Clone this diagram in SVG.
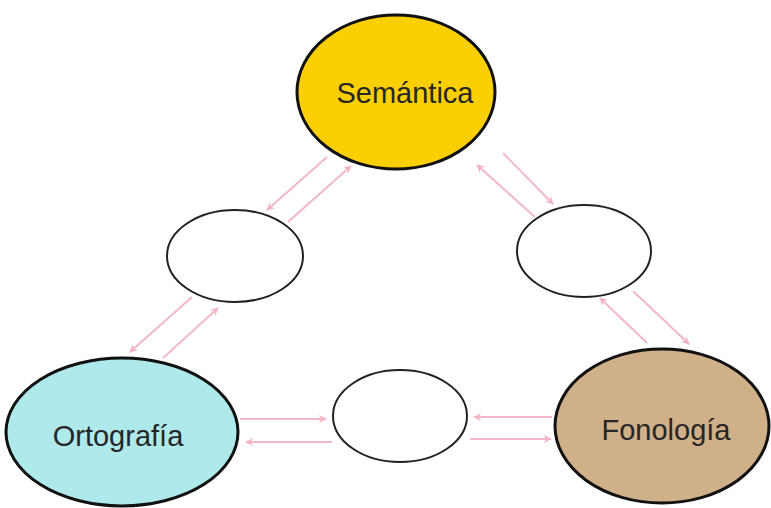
<svg xmlns="http://www.w3.org/2000/svg" width="771" height="508" viewBox="0 0 771 508">
  <defs>
    <marker id="head" viewBox="0 0 10 10" refX="9" refY="5" markerWidth="4" markerHeight="4" orient="auto" markerUnits="strokeWidth">
      <path d="M0,0 L10,5 L0,10 L3,5 Z" fill="#f3b3c4"/>
    </marker>
    <style>
      .node { stroke: #111; stroke-width: 3; }
      .small { fill: #fff; stroke: #222; stroke-width: 2; }
      .label { font-family: "Liberation Sans", Arial, sans-serif; font-size: 29px; fill: #262626; text-anchor: middle; }
      .link { stroke: #f3b8c6; stroke-width: 2; fill: none; marker-end: url(#head); }
    </style>
  </defs>
  <rect width="771" height="508" fill="#fff"/>

  <g id="connectors">
    <!-- Semántica <-> upper-left blank -->
    <line class="link" x1="327" y1="157" x2="267" y2="210"/>
    <line class="link" x1="288" y1="222" x2="351" y2="166"/>
    <!-- upper-left blank <-> Ortografía -->
    <line class="link" x1="192" y1="297" x2="130" y2="352"/>
    <line class="link" x1="163" y1="358" x2="218" y2="308"/>
    <!-- Semántica <-> upper-right blank -->
    <line class="link" x1="535" y1="217" x2="477" y2="165"/>
    <line class="link" x1="503" y1="153" x2="553" y2="204"/>
    <!-- upper-right blank <-> Fonología -->
    <line class="link" x1="647" y1="343" x2="600" y2="298"/>
    <line class="link" x1="633" y1="291" x2="689" y2="344"/>
    <!-- Ortografía <-> lower blank -->
    <line class="link" x1="240" y1="419" x2="326" y2="419"/>
    <line class="link" x1="332" y1="442" x2="246" y2="442"/>
    <!-- lower blank <-> Fonología -->
    <line class="link" x1="552" y1="417" x2="474" y2="417"/>
    <line class="link" x1="470" y1="439" x2="551" y2="439"/>
  </g>

  <g id="semantica">
    <ellipse class="node" cx="396" cy="92" rx="99" ry="77" fill="#fccf00"/>
    <text class="label" x="405" y="103">Semántica</text>
  </g>

  <g id="ortografia">
    <ellipse class="node" cx="122" cy="432" rx="116" ry="74" fill="#aee9ec"/>
    <text class="label" x="118" y="446">Ortografía</text>
  </g>

  <g id="fonologia">
    <ellipse class="node" cx="662" cy="426" rx="107" ry="77" fill="#cfb088"/>
    <text class="label" x="666" y="440">Fonología</text>
  </g>

  <g id="blank-left">
    <ellipse class="small" cx="235" cy="256" rx="68" ry="46"/>
  </g>

  <g id="blank-right">
    <ellipse class="small" cx="584" cy="251" rx="67" ry="46"/>
  </g>

  <g id="blank-bottom">
    <ellipse class="small" cx="400" cy="416" rx="67" ry="46"/>
  </g>
</svg>
